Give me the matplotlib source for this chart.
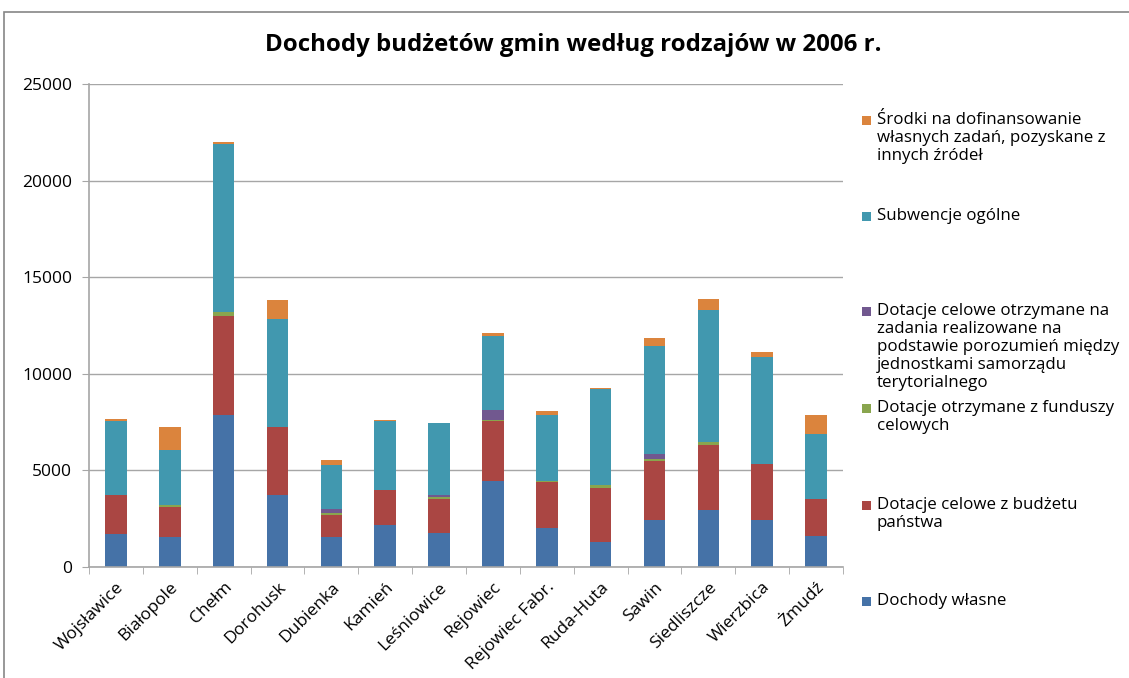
import matplotlib.pyplot as plt
import numpy as np
from matplotlib.patches import Rectangle

plt.rcParams['font.family'] = ['Open Sans', 'DejaVu Sans']

gminy = ["Wojsławice", "Białopole", "Chełm", "Dorohusk", "Dubienka", "Kamień",
         "Leśniowice", "Rejowiec", "Rejowiec Fabr.", "Ruda-Huta", "Sawin",
         "Siedliszcze", "Wierzbica", "Żmudź"]

dochody_wlasne = [1690, 1550, 7880, 3690, 1550, 2140, 1730, 4430, 1990, 1280, 2430, 2950, 2400, 1600]
dotacje_budzet = [2020, 1550, 5090, 3540, 1140, 1830, 1760, 3110, 2380, 2810, 3040, 3350, 2900, 1900]
dotacje_fundusze = [20, 90, 210, 20, 70, 20, 130, 60, 60, 120, 100, 170, 0, 0]
dotacje_porozumienia = [0, 20, 0, 0, 210, 0, 90, 540, 0, 0, 280, 0, 30, 0]
subwencje = [3840, 2830, 8720, 5580, 2280, 3550, 3710, 3790, 3430, 4970, 5580, 6830, 5530, 3380]
srodki = [70, 1190, 90, 990, 270, 70, 20, 160, 210, 70, 420, 570, 280, 1000]

series = [
    ("Dochody własne", dochody_wlasne, "#4572A7"),
    ("Dotacje celowe z budżetu\npaństwa", dotacje_budzet, "#AA4643"),
    ("Dotacje otrzymane z funduszy\ncelowych", dotacje_fundusze, "#89A54E"),
    ("Dotacje celowe otrzymane na\nzadania realizowane na\npodstawie porozumień między\n"
     "jednostkami samorządu\nterytorialnego", dotacje_porozumienia, "#71588F"),
    ("Subwencje ogólne", subwencje, "#4198AF"),
    ("Środki na dofinansowanie\nwłasnych zadań, pozyskane z\ninnych źródeł", srodki, "#DB843D"),
]

fig = plt.figure(figsize=(11.29, 6.78), dpi=100)
fig.patches.append(Rectangle((4 / 1129, -0.01), 1.02, 1 - 12 / 678 + 0.01,
                             transform=fig.transFigure, fill=False,
                             edgecolor="#868686", linewidth=1.2))
ax = fig.add_axes([89 / 1129, 1 - 566.7 / 678, 754 / 1129, 482.7 / 678])

x = np.arange(len(gminy))
bottom = np.zeros(len(gminy))
for label, vals, color in series:
    vals = np.asarray(vals, dtype=float)
    ax.bar(x, vals, width=0.4, bottom=bottom, color=color, edgecolor="none")
    bottom += vals

ax.set_xlim(-0.5, len(gminy) - 0.5)
ax.set_ylim(0, 25000)
ax.set_yticks(np.arange(0, 25001, 5000))
ax.yaxis.grid(True, color="#a6a6a6", linewidth=1.0)
ax.set_axisbelow(True)
for s in ["top", "right"]:
    ax.spines[s].set_visible(False)
for s in ["left", "bottom"]:
    ax.spines[s].set_color("#a6a6a6")
    ax.spines[s].set_linewidth(1.2)
ax.tick_params(axis="y", colors="#a6a6a6", labelcolor="black", labelsize=12.5,
               length=5, pad=7)
ax.set_xticks(x)
ax.set_xticklabels(gminy, rotation=45, ha="right", rotation_mode="anchor", fontsize=12.5)
ax.tick_params(axis="x", length=0, pad=9)
ax.set_xticks(np.arange(-0.5, len(gminy), 1.0), minor=True)
ax.tick_params(axis="x", which="minor", length=5, color="#a6a6a6")

fig.text(573 / 1129, 1 - 45 / 678, "Dochody budżetów gmin według rodzajów w 2006 r.",
         ha="center", va="center", fontsize=17.3, fontweight="bold")

# legend drawn by hand, top entry first
legend_y = [120, 216, 311, 408, 505, 601]
for (label, vals, color), ly in zip(reversed(series), legend_y):
    fig.patches.append(Rectangle((862 / 1129, 1 - (ly + 5) / 678), 9 / 1129, 9 / 678,
                                 transform=fig.transFigure, facecolor=color,
                                 edgecolor="none"))
    fig.text(877 / 1129, 1 - (ly - 8) / 678, label, ha="left", va="top",
             fontsize=12.2, linespacing=1.17)

fig.savefig("out.png", dpi=100, facecolor="white")
